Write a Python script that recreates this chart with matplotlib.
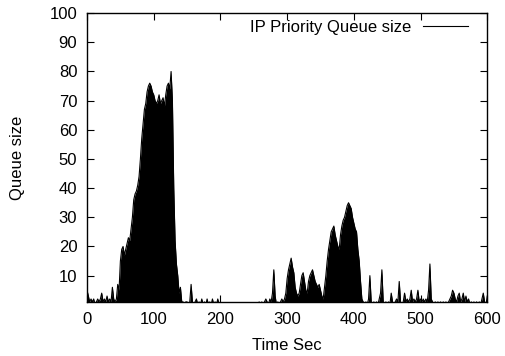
import numpy as np
import matplotlib.pyplot as plt

plt.rcParams['font.family'] = ['Liberation Sans', 'DejaVu Sans']

# queue size, one sample every 2 s
time_sec = np.arange(0, 602, 2)

q_000 = [5, 3, 1, 2, 1, 2, 0, 1, 2, 1, 2, 4, 1, 2, 1, 3, 1, 2, 1, 6, 2, 1, 2, 7, 5]
q_050 = [15, 19, 20, 17, 19, 21, 23, 22, 26, 30, 36, 38, 39, 41, 44, 50, 57, 62, 67, 69, 73, 75, 76, 75, 73]
q_100 = [72, 70, 69, 70, 72, 69, 70, 71, 68, 72, 75, 76, 74, 80, 70, 40, 22, 14, 10, 4, 6, 1, 1, 0, 1]
q_150 = [1, 0, 1, 7, 1, 0, 1, 2, 0, 1, 0, 2, 0, 1, 0, 2, 0, 1, 0, 2, 0, 1, 0, 2, 0]
q_200 = [0] * 25
q_250 = [0, 0, 0, 0, 1, 0, 1, 0, 1, 2, 1, 0, 2, 1, 4, 12, 3, 0, 1, 0, 1, 2, 1, 2, 4]
q_300 = [9, 12, 14, 16, 13, 11, 6, 4, 3, 4, 7, 10, 11, 8, 5, 4, 8, 10, 11, 12, 10, 8, 7, 6, 7]
q_350 = [5, 3, 2, 6, 10, 15, 19, 22, 25, 26, 27, 24, 22, 20, 19, 24, 27, 29, 30, 32, 34, 35, 34, 33, 30]
q_400 = [28, 26, 25, 19, 15, 8, 2, 1, 0, 1, 0, 2, 10, 1, 0, 1, 0, 1, 0, 2, 4, 12, 1, 0, 1]
q_450 = [0, 1, 0, 4, 1, 0, 1, 2, 1, 8, 1, 0, 1, 4, 1, 2, 1, 2, 5, 1, 2, 1, 2, 5, 1]
q_500 = [2, 1, 2, 1, 2, 1, 5, 14, 2, 1, 0, 1, 0, 1, 0, 1, 0, 1, 0, 1, 0, 1, 2, 3, 5]
q_550 = [4, 2, 1, 3, 4, 1, 2, 4, 1, 3, 1, 2, 0, 1, 0, 1, 0, 1, 0, 1, 0, 2, 4, 1, 0]
q_600 = [3]

queue = np.array(q_000 + q_050 + q_100 + q_150 + q_200 + q_250 +
                 q_300 + q_350 + q_400 + q_450 + q_500 + q_550 + q_600)

x_ticks = [0, 100, 200, 300, 400, 500, 600]
y_ticks = [10, 20, 30, 40, 50, 60, 70, 80, 90, 100]

fig = plt.figure(figsize=(5.06, 3.56), dpi=100)
ax = fig.add_axes([0.172, 0.152, 0.791, 0.811])

# gnuplot-like dense trace: filled area under a thin line
ax.fill_between(time_sec, 0, queue, color='black', linewidth=0)
ax.plot(time_sec, queue, color='black', linewidth=0.8, label='IP Priority Queue size')

ax.set_xlim(0, 600)
ax.set_ylim(1, 100)
ax.set_xticks(x_ticks)
ax.set_yticks(y_ticks)
ax.tick_params(direction='in', length=5, width=0.8, top=True, right=True, labelsize=12)
ax.tick_params(axis='x', pad=7)
ax.tick_params(axis='y', pad=7)
for s in ax.spines.values():
    s.set_linewidth(1.0)

ax.set_xlabel('Time Sec', fontsize=12, labelpad=8)
ax.set_ylabel('Queue size', fontsize=12)
ax.yaxis.set_label_coords(-0.155, 0.5)

ax.legend(loc='upper right', bbox_to_anchor=(0.968, 1.0), frameon=False,
          markerfirst=False, handlelength=2.7, handletextpad=0.7,
          borderaxespad=0, fontsize=12)

plt.savefig('out.png', dpi=100)
